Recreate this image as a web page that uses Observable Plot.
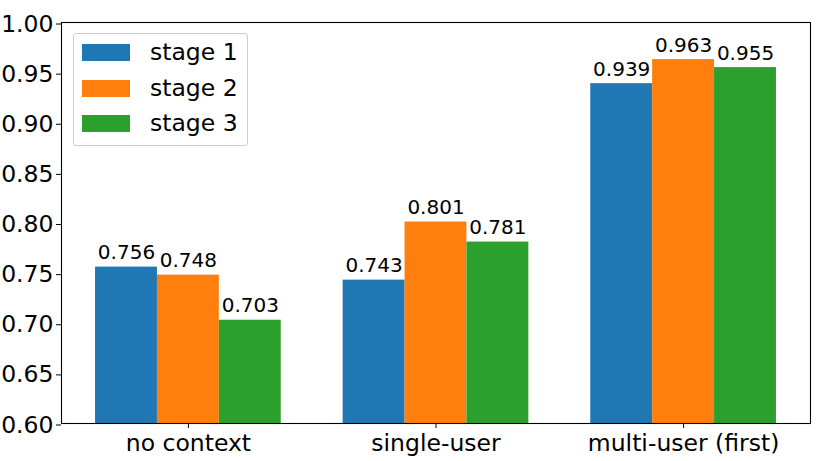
<!DOCTYPE html>
<html>
<head>
<meta charset="utf-8">
<script src="https://cdn.jsdelivr.net/npm/d3@7"></script>
<script src="https://cdn.jsdelivr.net/npm/@observablehq/plot@0.6"></script>
<style>
  html, body { margin: 0; padding: 0; background: #fff; }
  #wrap { position: relative; width: 830px; height: 461px; font-family: "DejaVu Sans", sans-serif; }
  #legend { position: absolute; left: 73px; top: 33px; width: 175px; height: 113px;
    border: 1px solid #cccccc; border-radius: 3px; background: rgba(255,255,255,0.8); box-sizing: border-box; }
  .item { position: absolute; left: 8px; height: 17px; display: flex; align-items: center; }
  .sw { width: 48px; height: 17px; }
  .lab { margin-left: 20px; font-size: 23.5px; color: #000; line-height: 17px; }
</style>
</head>
<body>
<div id="wrap"></div>
<script>
// ---- data ----
const categories = ["no context", "single-user", "multi-user (first)"];
const stages = ["stage 1", "stage 2", "stage 3"];
const stage1 = [0.756, 0.743, 0.939];
const stage2 = [0.748, 0.801, 0.963];
const stage3 = [0.703, 0.781, 0.955];
const yTicks = [0.60, 0.65, 0.70, 0.75, 0.80, 0.85, 0.90, 0.95, 1.00];
const yMin = 0.60, yMax = 1.00;
const colors = ["#1f77b4", "#ff7f0e", "#2ca02c"];

// ---- build table ----
const series = [stage1, stage2, stage3];
const barW = 0.25;
const rows = [];
categories.forEach((c, i) => {
  stages.forEach((s, j) => {
    rows.push({category: c, stage: s, value: series[j][i], pos: i + (j - 1) * barW});
  });
});
const half = (stages.length * barW) / 2;
const pad = 0.05 * (categories.length - 1 + 2 * half);
const xDomain = [-half - pad, categories.length - 1 + half + pad];

const chart = Plot.plot({
  width: 830,
  height: 461,
  marginLeft: 61,
  marginRight: 20,
  marginTop: 22,
  marginBottom: 38,
  style: {fontFamily: "DejaVu Sans, sans-serif", fontSize: "23.5px", color: "#000", background: "#fff"},
  x: {domain: xDomain, axis: null},
  y: {domain: [yMin, yMax], axis: null},
  color: {domain: stages, range: colors},
  marks: [
    Plot.rectY(rows, {x1: d => d.pos - barW / 2, x2: d => d.pos + barW / 2, y1: yMin, y2: "value", fill: "stage"}),
    Plot.text(rows, {x: "pos", y: "value", text: d => d.value.toFixed(3), lineAnchor: "bottom", dy: -8, fontSize: 20, fill: "#000"}),
    Plot.axisY({ticks: yTicks, tickFormat: d => d.toFixed(2), tickSize: 5, tickPadding: 3, label: null, dy: 1.5, fontSize: 23.5}),
    Plot.axisX({ticks: categories.map((c, i) => i), tickFormat: i => categories[i], tickSize: 5, tickPadding: 6, label: null, fontSize: 23.5}),
    Plot.frame({stroke: "#000", strokeWidth: 1.1})
  ]
});

const wrap = document.getElementById("wrap");
wrap.appendChild(chart);

// legend overlay
const legend = document.createElement("div");
legend.id = "legend";
stages.forEach((s, j) => {
  const item = document.createElement("div");
  item.className = "item";
  item.style.top = (10 + j * 35.5) + "px";
  const sw = document.createElement("div");
  sw.className = "sw";
  sw.style.background = colors[j];
  const lab = document.createElement("span");
  lab.className = "lab";
  lab.textContent = s;
  item.appendChild(sw);
  item.appendChild(lab);
  legend.appendChild(item);
});
wrap.appendChild(legend);
</script>
</body>
</html>
